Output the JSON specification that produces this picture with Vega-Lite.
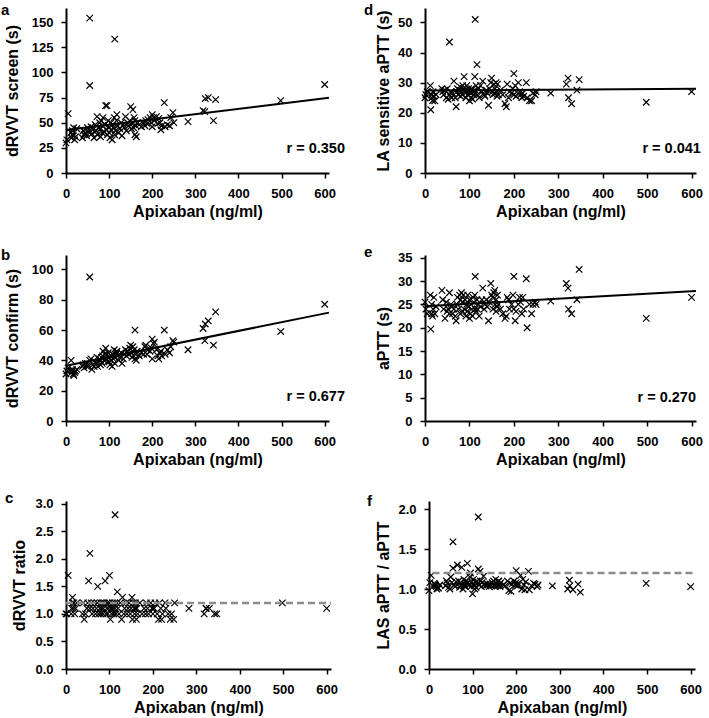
{
"$schema": "https://vega.github.io/schema/vega-lite/v6.json",
"padding": {"left": 1, "top": 2, "right": 2, "bottom": 2},
"background": "white",
"config": {
"view": {"stroke": null},
"font": "Liberation Sans",
"axis": {"grid": false, "labelFont": "Liberation Sans", "labelFontSize": 13, "labelFontWeight": "bold", "labelColor": "#000", "titleFont": "Liberation Sans", "titleFontSize": 16, "titleFontWeight": "bold", "titleColor": "#000", "domainColor": "#000", "domainWidth": 2, "tickColor": "#000", "tickWidth": 1.5, "tickSize": 5, "labelFlush": false, "labelOverlap": false},
"axisX": {"titlePadding": 3, "labelPadding": 9},
"axisY": {"titlePadding": 8, "labelPadding": 8},
"title": {"font": "Liberation Sans", "fontSize": 15, "fontWeight": "bold", "color": "#000", "anchor": "start", "frame": "group", "baseline": "alphabetic", "offset": 0}
},
"datasets": {
"samples": [
{"apixaban":0,"dRVVT_screen":30,"dRVVT_confirm":31,"dRVVT_ratio":1.0,"LAS_aPTT":25,"aPTT":25.5,"LAS_ratio":0.98},
{"apixaban":2,"dRVVT_screen":33,"dRVVT_confirm":33,"dRVVT_ratio":1.0,"LAS_aPTT":26,"aPTT":24,"LAS_ratio":1.08},
{"apixaban":5,"dRVVT_screen":59,"dRVVT_confirm":35,"dRVVT_ratio":1.7,"LAS_aPTT":27,"aPTT":23,"LAS_ratio":1.17},
{"apixaban":12,"dRVVT_screen":40,"dRVVT_confirm":40,"dRVVT_ratio":1.0,"LAS_aPTT":29,"aPTT":27,"LAS_ratio":1.07},
{"apixaban":13,"dRVVT_screen":35,"dRVVT_confirm":32,"dRVVT_ratio":1.1,"LAS_aPTT":21,"aPTT":19.7,"LAS_ratio":1.06},
{"apixaban":15,"dRVVT_screen":38,"dRVVT_confirm":34,"dRVVT_ratio":1.2,"LAS_aPTT":26,"aPTT":25,"LAS_ratio":1.04},
{"apixaban":15,"dRVVT_screen":42,"dRVVT_confirm":33,"dRVVT_ratio":1.3,"LAS_aPTT":25,"aPTT":23,"LAS_ratio":1.05},
{"apixaban":17,"dRVVT_screen":37,"dRVVT_confirm":31,"dRVVT_ratio":1.1,"LAS_aPTT":24,"aPTT":22.5,"LAS_ratio":1.03},
{"apixaban":18,"dRVVT_screen":45,"dRVVT_confirm":30,"dRVVT_ratio":1.2,"LAS_aPTT":27,"aPTT":24,"LAS_ratio":1.0},
{"apixaban":20,"dRVVT_screen":33,"dRVVT_confirm":32,"dRVVT_ratio":1.0,"LAS_aPTT":25.5,"aPTT":26.5,"LAS_ratio":1.02},
{"apixaban":22,"dRVVT_screen":36,"dRVVT_confirm":33,"dRVVT_ratio":1.1,"LAS_aPTT":24,"aPTT":23,"LAS_ratio":1.01},
{"apixaban":25,"dRVVT_screen":44,"dRVVT_confirm":34,"dRVVT_ratio":1.2,"LAS_aPTT":26,"aPTT":24.5,"LAS_ratio":1.05},
{"apixaban":38,"dRVVT_screen":35,"dRVVT_confirm":36,"dRVVT_ratio":1.0,"LAS_aPTT":28,"aPTT":28,"LAS_ratio":1.04},
{"apixaban":40,"dRVVT_screen":42,"dRVVT_confirm":37,"dRVVT_ratio":1.2,"LAS_aPTT":27,"aPTT":26,"LAS_ratio":1.1},
{"apixaban":42,"dRVVT_screen":38,"dRVVT_confirm":35,"dRVVT_ratio":0.9,"LAS_aPTT":26,"aPTT":24,"LAS_ratio":1.07},
{"apixaban":45,"dRVVT_screen":40,"dRVVT_confirm":38,"dRVVT_ratio":1.0,"LAS_aPTT":27.5,"aPTT":22,"LAS_ratio":1.02},
{"apixaban":48,"dRVVT_screen":37,"dRVVT_confirm":36,"dRVVT_ratio":1.1,"LAS_aPTT":25,"aPTT":25.5,"LAS_ratio":1.0},
{"apixaban":50,"dRVVT_screen":45,"dRVVT_confirm":38,"dRVVT_ratio":1.2,"LAS_aPTT":28,"aPTT":23.5,"LAS_ratio":1.15},
{"apixaban":52,"dRVVT_screen":41,"dRVVT_confirm":36,"dRVVT_ratio":1.6,"LAS_aPTT":24.5,"aPTT":24,"LAS_ratio":1.08},
{"apixaban":55,"dRVVT_screen":154,"dRVVT_confirm":95,"dRVVT_ratio":2.1,"LAS_aPTT":43.5,"aPTT":27.5,"LAS_ratio":1.59},
{"apixaban":55,"dRVVT_screen":87,"dRVVT_confirm":40,"dRVVT_ratio":1.1,"LAS_aPTT":26,"aPTT":23,"LAS_ratio":1.26},
{"apixaban":58,"dRVVT_screen":46,"dRVVT_confirm":41,"dRVVT_ratio":1.2,"LAS_aPTT":27,"aPTT":25,"LAS_ratio":1.05},
{"apixaban":60,"dRVVT_screen":39,"dRVVT_confirm":34,"dRVVT_ratio":1.0,"LAS_aPTT":25,"aPTT":24.5,"LAS_ratio":1.03},
{"apixaban":62,"dRVVT_screen":43,"dRVVT_confirm":37,"dRVVT_ratio":1.1,"LAS_aPTT":26.5,"aPTT":23,"LAS_ratio":1.09},
{"apixaban":65,"dRVVT_screen":35,"dRVVT_confirm":36,"dRVVT_ratio":1.2,"LAS_aPTT":30.5,"aPTT":24,"LAS_ratio":1.3},
{"apixaban":68,"dRVVT_screen":48,"dRVVT_confirm":39,"dRVVT_ratio":1.0,"LAS_aPTT":25,"aPTT":22.5,"LAS_ratio":1.1},
{"apixaban":70,"dRVVT_screen":42,"dRVVT_confirm":38,"dRVVT_ratio":1.1,"LAS_aPTT":22,"aPTT":21.5,"LAS_ratio":1.02},
{"apixaban":72,"dRVVT_screen":56,"dRVVT_confirm":42,"dRVVT_ratio":1.2,"LAS_aPTT":27,"aPTT":25,"LAS_ratio":1.08},
{"apixaban":73,"dRVVT_screen":38,"dRVVT_confirm":36,"dRVVT_ratio":1.5,"LAS_aPTT":28,"aPTT":26.5,"LAS_ratio":1.05},
{"apixaban":75,"dRVVT_screen":45,"dRVVT_confirm":39,"dRVVT_ratio":1.0,"LAS_aPTT":26,"aPTT":24,"LAS_ratio":1.27},
{"apixaban":78,"dRVVT_screen":50,"dRVVT_confirm":41,"dRVVT_ratio":1.1,"LAS_aPTT":27.5,"aPTT":27,"LAS_ratio":1.0},
{"apixaban":80,"dRVVT_screen":36,"dRVVT_confirm":37,"dRVVT_ratio":1.2,"LAS_aPTT":25.5,"aPTT":23,"LAS_ratio":1.04},
{"apixaban":80,"dRVVT_screen":44,"dRVVT_confirm":40,"dRVVT_ratio":1.0,"LAS_aPTT":28.5,"aPTT":26,"LAS_ratio":1.12},
{"apixaban":82,"dRVVT_screen":52,"dRVVT_confirm":42,"dRVVT_ratio":1.1,"LAS_aPTT":27,"aPTT":27.5,"LAS_ratio":1.06},
{"apixaban":84,"dRVVT_screen":40,"dRVVT_confirm":38,"dRVVT_ratio":1.2,"LAS_aPTT":26,"aPTT":25.5,"LAS_ratio":1.03},
{"apixaban":85,"dRVVT_screen":47,"dRVVT_confirm":43,"dRVVT_ratio":1.0,"LAS_aPTT":29,"aPTT":23.5,"LAS_ratio":1.1},
{"apixaban":86,"dRVVT_screen":55,"dRVVT_confirm":46,"dRVVT_ratio":1.1,"LAS_aPTT":28,"aPTT":27,"LAS_ratio":1.07},
{"apixaban":88,"dRVVT_screen":41,"dRVVT_confirm":40,"dRVVT_ratio":1.2,"LAS_aPTT":32,"aPTT":24,"LAS_ratio":1.32},
{"apixaban":90,"dRVVT_screen":48,"dRVVT_confirm":44,"dRVVT_ratio":1.6,"LAS_aPTT":27.5,"aPTT":26,"LAS_ratio":1.08},
{"apixaban":92,"dRVVT_screen":67,"dRVVT_confirm":48,"dRVVT_ratio":1.0,"LAS_aPTT":25,"aPTT":22.5,"LAS_ratio":1.05},
{"apixaban":94,"dRVVT_screen":43,"dRVVT_confirm":41,"dRVVT_ratio":1.1,"LAS_aPTT":29,"aPTT":25,"LAS_ratio":1.15},
{"apixaban":95,"dRVVT_screen":67,"dRVVT_confirm":44,"dRVVT_ratio":1.2,"LAS_aPTT":27,"aPTT":23.5,"LAS_ratio":1.2},
{"apixaban":96,"dRVVT_screen":38,"dRVVT_confirm":39,"dRVVT_ratio":1.0,"LAS_aPTT":26,"aPTT":27,"LAS_ratio":1.03},
{"apixaban":98,"dRVVT_screen":52,"dRVVT_confirm":45,"dRVVT_ratio":1.1,"LAS_aPTT":28,"aPTT":24.5,"LAS_ratio":1.09},
{"apixaban":100,"dRVVT_screen":45,"dRVVT_confirm":42,"dRVVT_ratio":1.7,"LAS_aPTT":27,"aPTT":26,"LAS_ratio":0.94},
{"apixaban":100,"dRVVT_screen":40,"dRVVT_confirm":39,"dRVVT_ratio":1.2,"LAS_aPTT":24,"aPTT":22,"LAS_ratio":1.06},
{"apixaban":102,"dRVVT_screen":35,"dRVVT_confirm":37,"dRVVT_ratio":0.9,"LAS_aPTT":26.5,"aPTT":23,"LAS_ratio":1.12},
{"apixaban":104,"dRVVT_screen":50,"dRVVT_confirm":43,"dRVVT_ratio":1.1,"LAS_aPTT":25,"aPTT":25,"LAS_ratio":1.04},
{"apixaban":105,"dRVVT_screen":43,"dRVVT_confirm":40,"dRVVT_ratio":1.0,"LAS_aPTT":28,"aPTT":24,"LAS_ratio":1.0},
{"apixaban":107,"dRVVT_screen":33,"dRVVT_confirm":36,"dRVVT_ratio":1.2,"LAS_aPTT":24.5,"aPTT":22.5,"LAS_ratio":1.08},
{"apixaban":108,"dRVVT_screen":48,"dRVVT_confirm":44,"dRVVT_ratio":1.1,"LAS_aPTT":27,"aPTT":26.5,"LAS_ratio":1.02},
{"apixaban":110,"dRVVT_screen":45,"dRVVT_confirm":41,"dRVVT_ratio":1.0,"LAS_aPTT":26,"aPTT":25.5,"LAS_ratio":1.1},
{"apixaban":112,"dRVVT_screen":55,"dRVVT_confirm":47,"dRVVT_ratio":1.2,"LAS_aPTT":32,"aPTT":27,"LAS_ratio":1.07},
{"apixaban":113,"dRVVT_screen":133,"dRVVT_confirm":42,"dRVVT_ratio":2.8,"LAS_aPTT":51,"aPTT":31,"LAS_ratio":1.9},
{"apixaban":113,"dRVVT_screen":38,"dRVVT_confirm":38,"dRVVT_ratio":1.1,"LAS_aPTT":27.5,"aPTT":24,"LAS_ratio":1.25},
{"apixaban":115,"dRVVT_screen":42,"dRVVT_confirm":44,"dRVVT_ratio":1.0,"LAS_aPTT":29,"aPTT":23.5,"LAS_ratio":1.05},
{"apixaban":117,"dRVVT_screen":52,"dRVVT_confirm":45,"dRVVT_ratio":1.2,"LAS_aPTT":36,"aPTT":26,"LAS_ratio":1.22},
{"apixaban":118,"dRVVT_screen":58,"dRVVT_confirm":46,"dRVVT_ratio":1.4,"LAS_aPTT":26,"aPTT":24,"LAS_ratio":1.1},
{"apixaban":120,"dRVVT_screen":47,"dRVVT_confirm":43,"dRVVT_ratio":1.1,"LAS_aPTT":28,"aPTT":25,"LAS_ratio":1.03},
{"apixaban":122,"dRVVT_screen":40,"dRVVT_confirm":40,"dRVVT_ratio":1.0,"LAS_aPTT":25,"aPTT":22.5,"LAS_ratio":1.08},
{"apixaban":125,"dRVVT_screen":44,"dRVVT_confirm":42,"dRVVT_ratio":1.2,"LAS_aPTT":29,"aPTT":24.5,"LAS_ratio":1.16},
{"apixaban":128,"dRVVT_screen":50,"dRVVT_confirm":45,"dRVVT_ratio":0.9,"LAS_aPTT":27,"aPTT":26,"LAS_ratio":1.06},
{"apixaban":130,"dRVVT_screen":37,"dRVVT_confirm":38,"dRVVT_ratio":1.3,"LAS_aPTT":30.5,"aPTT":28.5,"LAS_ratio":1.04},
{"apixaban":133,"dRVVT_screen":48,"dRVVT_confirm":41,"dRVVT_ratio":1.0,"LAS_aPTT":26,"aPTT":24,"LAS_ratio":1.07},
{"apixaban":135,"dRVVT_screen":45,"dRVVT_confirm":44,"dRVVT_ratio":1.1,"LAS_aPTT":25.5,"aPTT":25,"LAS_ratio":1.05},
{"apixaban":138,"dRVVT_screen":56,"dRVVT_confirm":47,"dRVVT_ratio":1.2,"LAS_aPTT":27.5,"aPTT":26,"LAS_ratio":1.03},
{"apixaban":140,"dRVVT_screen":42,"dRVVT_confirm":43,"dRVVT_ratio":1.0,"LAS_aPTT":26.5,"aPTT":24.5,"LAS_ratio":1.06},
{"apixaban":143,"dRVVT_screen":50,"dRVVT_confirm":46,"dRVVT_ratio":1.1,"LAS_aPTT":22.5,"aPTT":21.5,"LAS_ratio":1.04},
{"apixaban":145,"dRVVT_screen":47,"dRVVT_confirm":44,"dRVVT_ratio":1.2,"LAS_aPTT":28,"aPTT":25.5,"LAS_ratio":1.08},
{"apixaban":148,"dRVVT_screen":52,"dRVVT_confirm":48,"dRVVT_ratio":1.0,"LAS_aPTT":30,"aPTT":29.5,"LAS_ratio":1.1},
{"apixaban":150,"dRVVT_screen":66,"dRVVT_confirm":50,"dRVVT_ratio":1.1,"LAS_aPTT":31.5,"aPTT":27,"LAS_ratio":1.05},
{"apixaban":152,"dRVVT_screen":44,"dRVVT_confirm":45,"dRVVT_ratio":1.3,"LAS_aPTT":27,"aPTT":26.5,"LAS_ratio":1.03},
{"apixaban":153,"dRVVT_screen":49,"dRVVT_confirm":42,"dRVVT_ratio":0.9,"LAS_aPTT":26,"aPTT":24,"LAS_ratio":1.12},
{"apixaban":155,"dRVVT_screen":63,"dRVVT_confirm":49,"dRVVT_ratio":1.2,"LAS_aPTT":29.5,"aPTT":27.5,"LAS_ratio":1.07},
{"apixaban":157,"dRVVT_screen":45,"dRVVT_confirm":43,"dRVVT_ratio":1.1,"LAS_aPTT":28,"aPTT":28,"LAS_ratio":1.04},
{"apixaban":158,"dRVVT_screen":55,"dRVVT_confirm":47,"dRVVT_ratio":1.0,"LAS_aPTT":26.5,"aPTT":25,"LAS_ratio":1.09},
{"apixaban":160,"dRVVT_screen":38,"dRVVT_confirm":41,"dRVVT_ratio":1.1,"LAS_aPTT":30,"aPTT":23.5,"LAS_ratio":1.05},
{"apixaban":160,"dRVVT_screen":52,"dRVVT_confirm":60,"dRVVT_ratio":1.2,"LAS_aPTT":27,"aPTT":26,"LAS_ratio":1.1},
{"apixaban":162,"dRVVT_screen":47,"dRVVT_confirm":44,"dRVVT_ratio":0.9,"LAS_aPTT":25.5,"aPTT":24.5,"LAS_ratio":1.06},
{"apixaban":163,"dRVVT_screen":36,"dRVVT_confirm":40,"dRVVT_ratio":1.1,"LAS_aPTT":29.5,"aPTT":27,"LAS_ratio":1.03},
{"apixaban":165,"dRVVT_screen":50,"dRVVT_confirm":46,"dRVVT_ratio":1.0,"LAS_aPTT":26,"aPTT":25,"LAS_ratio":1.08},
{"apixaban":170,"dRVVT_screen":48,"dRVVT_confirm":43,"dRVVT_ratio":1.2,"LAS_aPTT":27.5,"aPTT":24,"LAS_ratio":1.05},
{"apixaban":175,"dRVVT_screen":46,"dRVVT_confirm":45,"dRVVT_ratio":1.0,"LAS_aPTT":26,"aPTT":23,"LAS_ratio":1.04},
{"apixaban":180,"dRVVT_screen":50,"dRVVT_confirm":44,"dRVVT_ratio":1.1,"LAS_aPTT":23,"aPTT":22,"LAS_ratio":1.1},
{"apixaban":183,"dRVVT_screen":47,"dRVVT_confirm":49,"dRVVT_ratio":1.0,"LAS_aPTT":22,"aPTT":22.5,"LAS_ratio":0.98},
{"apixaban":185,"dRVVT_screen":52,"dRVVT_confirm":50,"dRVVT_ratio":1.2,"LAS_aPTT":29.5,"aPTT":26.5,"LAS_ratio":1.07},
{"apixaban":188,"dRVVT_screen":49,"dRVVT_confirm":44,"dRVVT_ratio":1.1,"LAS_aPTT":25,"aPTT":26,"LAS_ratio":0.97},
{"apixaban":190,"dRVVT_screen":53,"dRVVT_confirm":47,"dRVVT_ratio":1.0,"LAS_aPTT":27,"aPTT":24,"LAS_ratio":1.06},
{"apixaban":195,"dRVVT_screen":55,"dRVVT_confirm":46,"dRVVT_ratio":1.2,"LAS_aPTT":26.5,"aPTT":25,"LAS_ratio":1.1},
{"apixaban":198,"dRVVT_screen":50,"dRVVT_confirm":48,"dRVVT_ratio":1.1,"LAS_aPTT":28,"aPTT":27,"LAS_ratio":1.05},
{"apixaban":200,"dRVVT_screen":58,"dRVVT_confirm":54,"dRVVT_ratio":1.1,"LAS_aPTT":33,"aPTT":31,"LAS_ratio":1.08},
{"apixaban":200,"dRVVT_screen":46,"dRVVT_confirm":41,"dRVVT_ratio":1.0,"LAS_aPTT":26,"aPTT":24,"LAS_ratio":1.23},
{"apixaban":203,"dRVVT_screen":55,"dRVVT_confirm":51,"dRVVT_ratio":1.1,"LAS_aPTT":29,"aPTT":21.5,"LAS_ratio":1.04},
{"apixaban":205,"dRVVT_screen":52,"dRVVT_confirm":52,"dRVVT_ratio":1.2,"LAS_aPTT":25.5,"aPTT":23.5,"LAS_ratio":1.07},
{"apixaban":210,"dRVVT_screen":56,"dRVVT_confirm":47,"dRVVT_ratio":1.0,"LAS_aPTT":30,"aPTT":25,"LAS_ratio":1.17},
{"apixaban":213,"dRVVT_screen":49,"dRVVT_confirm":43,"dRVVT_ratio":0.9,"LAS_aPTT":27,"aPTT":26.5,"LAS_ratio":1.0},
{"apixaban":215,"dRVVT_screen":54,"dRVVT_confirm":41,"dRVVT_ratio":1.2,"LAS_aPTT":26,"aPTT":25.5,"LAS_ratio":1.12},
{"apixaban":218,"dRVVT_screen":50,"dRVVT_confirm":45,"dRVVT_ratio":1.1,"LAS_aPTT":25,"aPTT":23,"LAS_ratio":1.05},
{"apixaban":220,"dRVVT_screen":43,"dRVVT_confirm":46,"dRVVT_ratio":0.9,"LAS_aPTT":26.5,"aPTT":26.5,"LAS_ratio":0.99},
{"apixaban":222,"dRVVT_screen":47,"dRVVT_confirm":43,"dRVVT_ratio":1.0,"LAS_aPTT":25.5,"aPTT":24,"LAS_ratio":1.09},
{"apixaban":228,"dRVVT_screen":70,"dRVVT_confirm":60,"dRVVT_ratio":1.2,"LAS_aPTT":30,"aPTT":30.5,"LAS_ratio":1.22},
{"apixaban":230,"dRVVT_screen":46,"dRVVT_confirm":44,"dRVVT_ratio":1.1,"LAS_aPTT":25,"aPTT":20,"LAS_ratio":0.99},
{"apixaban":235,"dRVVT_screen":48,"dRVVT_confirm":47,"dRVVT_ratio":1.0,"LAS_aPTT":24,"aPTT":25,"LAS_ratio":1.04},
{"apixaban":240,"dRVVT_screen":47,"dRVVT_confirm":45,"dRVVT_ratio":0.9,"LAS_aPTT":24,"aPTT":23,"LAS_ratio":1.07},
{"apixaban":243,"dRVVT_screen":55,"dRVVT_confirm":49,"dRVVT_ratio":1.0,"LAS_aPTT":26.5,"aPTT":25,"LAS_ratio":1.06},
{"apixaban":248,"dRVVT_screen":60,"dRVVT_confirm":53,"dRVVT_ratio":0.9,"LAS_aPTT":26,"aPTT":25.5,"LAS_ratio":1.03},
{"apixaban":250,"dRVVT_screen":50,"dRVVT_confirm":52,"dRVVT_ratio":1.2,"LAS_aPTT":27,"aPTT":25,"LAS_ratio":1.05},
{"apixaban":283,"dRVVT_screen":51,"dRVVT_confirm":47,"dRVVT_ratio":1.1,"LAS_aPTT":26.5,"aPTT":25.7,"LAS_ratio":1.04},
{"apixaban":318,"dRVVT_screen":62,"dRVVT_confirm":61,"dRVVT_ratio":1.0,"LAS_aPTT":29.5,"aPTT":29.5,"LAS_ratio":1.0},
{"apixaban":322,"dRVVT_screen":61,"dRVVT_confirm":53,"dRVVT_ratio":1.1,"LAS_aPTT":31.5,"aPTT":28.5,"LAS_ratio":1.11},
{"apixaban":323,"dRVVT_screen":74,"dRVVT_confirm":64,"dRVVT_ratio":1.1,"LAS_aPTT":25,"aPTT":24,"LAS_ratio":1.04},
{"apixaban":330,"dRVVT_screen":75,"dRVVT_confirm":66,"dRVVT_ratio":1.1,"LAS_aPTT":23,"aPTT":23,"LAS_ratio":0.99},
{"apixaban":342,"dRVVT_screen":52,"dRVVT_confirm":50,"dRVVT_ratio":1.0,"LAS_aPTT":27.5,"aPTT":26,"LAS_ratio":1.06},
{"apixaban":347,"dRVVT_screen":73,"dRVVT_confirm":72,"dRVVT_ratio":1.0,"LAS_aPTT":31,"aPTT":32.5,"LAS_ratio":0.96},
{"apixaban":498,"dRVVT_screen":72,"dRVVT_confirm":59,"dRVVT_ratio":1.2,"LAS_aPTT":23.5,"aPTT":22,"LAS_ratio":1.07},
{"apixaban":600,"dRVVT_screen":88,"dRVVT_confirm":77,"dRVVT_ratio":1.1,"LAS_aPTT":27,"aPTT":26.5,"LAS_ratio":1.03}
],
"fit_screen": [{"apixaban":0,"dRVVT_screen":42.7},{"apixaban":610,"dRVVT_screen":74.8}],
"fit_confirm": [{"apixaban":0,"dRVVT_confirm":36.4},{"apixaban":610,"dRVVT_confirm":71.5}],
"fit_las": [{"apixaban":0,"LAS_aPTT":27.4},{"apixaban":610,"LAS_aPTT":28.0}],
"fit_aptt": [{"apixaban":0,"aPTT":24.6},{"apixaban":610,"aPTT":27.9}],
"cut_ratio": [{"apixaban":0,"dRVVT_ratio":1.2},{"apixaban":610,"dRVVT_ratio":1.2}],
"cut_las": [{"apixaban":8,"LAS_ratio":1.2},{"apixaban":610,"LAS_ratio":1.2}]
},
"spacing": 25,
"vconcat": [
{"hconcat": [
{"width": 263, "height": 165, "title": {"text": "a", "dx": -65, "dy": 13.5},
 "layer": [
 {"data": {"name": "samples"}, "mark": {"type": "point", "shape": "M-1,-1L1,1M-1,1L1,-1", "filled": false, "stroke": "#000", "strokeWidth": 1.2, "size": 42, "opacity": 1},
  "encoding": {"x": {"field": "apixaban", "type": "quantitative", "title": "Apixaban (ng/ml)", "scale": {"domain": [0, 610], "nice": false}, "axis": {"values": [0,100,200,300,400,500,600]}},
   "y": {"field": "dRVVT_screen", "type": "quantitative", "title": "dRVVT screen (s)", "scale": {"domain": [0, 164], "nice": false}, "axis": {"values": [0,25,50,75,100,125,150], "titlePadding": 11}}}},
 {"data": {"name": "fit_screen"}, "mark": {"type": "line", "color": "#000", "strokeWidth": 2},
  "encoding": {"x": {"field": "apixaban", "type": "quantitative", "title": "Apixaban (ng/ml)", "axis": {"values": [0,100,200,300,400,500,600]}}, "y": {"field": "dRVVT_screen", "type": "quantitative", "title": "dRVVT screen (s)", "axis": {"values": [0,25,50,75,100,125,150], "titlePadding": 11}}}},
 {"data": {"values": [{"label": "r = 0.350"}]}, "mark": {"type": "text", "align": "right", "baseline": "middle", "fontSize": 14.5, "fontWeight": "bold", "color": "#000"},
  "encoding": {"text": {"field": "label"}, "x": {"datum": 647, "axis": {"values": [0,100,200,300,400,500,600]}}, "y": {"datum": 24, "axis": {"values": [0,25,50,75,100,125,150], "titlePadding": 11}}}}
 ]},
{"width": 271, "height": 165, "title": {"text": "d", "dx": -61, "dy": 13.5},
 "layer": [
 {"data": {"name": "samples"}, "mark": {"type": "point", "shape": "M-1,-1L1,1M-1,1L1,-1", "filled": false, "stroke": "#000", "strokeWidth": 1.2, "size": 42, "opacity": 1},
  "encoding": {"x": {"field": "apixaban", "type": "quantitative", "title": "Apixaban (ng/ml)", "scale": {"domain": [0, 610], "nice": false}, "axis": {"values": [0,100,200,300,400,500,600]}},
   "y": {"field": "LAS_aPTT", "type": "quantitative", "title": "LA sensitive aPTT (s)", "scale": {"domain": [0, 54.8], "nice": false}, "axis": {"values": [0,10,20,30,40,50], "titlePadding": 6}}}},
 {"data": {"name": "fit_las"}, "mark": {"type": "line", "color": "#000", "strokeWidth": 2},
  "encoding": {"x": {"field": "apixaban", "type": "quantitative", "title": "Apixaban (ng/ml)", "axis": {"values": [0,100,200,300,400,500,600]}}, "y": {"field": "LAS_aPTT", "type": "quantitative", "title": "LA sensitive aPTT (s)", "axis": {"values": [0,10,20,30,40,50], "titlePadding": 6}}}},
 {"data": {"values": [{"label": "r = 0.041"}]}, "mark": {"type": "text", "align": "right", "baseline": "middle", "fontSize": 14.5, "fontWeight": "bold", "color": "#000"},
  "encoding": {"text": {"field": "label"}, "x": {"datum": 621, "axis": {"values": [0,100,200,300,400,500,600]}}, "y": {"datum": 8, "axis": {"values": [0,10,20,30,40,50], "titlePadding": 6}}}}
 ]}
], "spacing": 96, "bounds": "flush"},
{"spacing": 23, "vconcat": [
{"hconcat": [
{"width": 263, "height": 166, "title": {"text": "b", "dx": -65, "dy": 12},
 "layer": [
 {"data": {"name": "samples"}, "mark": {"type": "point", "shape": "M-1,-1L1,1M-1,1L1,-1", "filled": false, "stroke": "#000", "strokeWidth": 1.2, "size": 42, "opacity": 1},
  "encoding": {"x": {"field": "apixaban", "type": "quantitative", "title": "Apixaban (ng/ml)", "scale": {"domain": [0, 610], "nice": false}, "axis": {"values": [0,100,200,300,400,500,600]}},
   "y": {"field": "dRVVT_confirm", "type": "quantitative", "title": "dRVVT confirm (s)", "scale": {"domain": [0, 109.5], "nice": false}, "axis": {"values": [0,20,40,60,80,100], "titlePadding": 11}}}},
 {"data": {"name": "fit_confirm"}, "mark": {"type": "line", "color": "#000", "strokeWidth": 2},
  "encoding": {"x": {"field": "apixaban", "type": "quantitative", "title": "Apixaban (ng/ml)", "axis": {"values": [0,100,200,300,400,500,600]}}, "y": {"field": "dRVVT_confirm", "type": "quantitative", "title": "dRVVT confirm (s)", "axis": {"values": [0,20,40,60,80,100], "titlePadding": 11}}}},
 {"data": {"values": [{"label": "r = 0.677"}]}, "mark": {"type": "text", "align": "right", "baseline": "middle", "fontSize": 14.5, "fontWeight": "bold", "color": "#000"},
  "encoding": {"text": {"field": "label"}, "x": {"datum": 647, "axis": {"values": [0,100,200,300,400,500,600]}}, "y": {"datum": 16, "axis": {"values": [0,20,40,60,80,100], "titlePadding": 11}}}}
 ]},
{"width": 271, "height": 166, "title": {"text": "e", "dx": -61, "dy": 12},
 "layer": [
 {"data": {"name": "samples"}, "mark": {"type": "point", "shape": "M-1,-1L1,1M-1,1L1,-1", "filled": false, "stroke": "#000", "strokeWidth": 1.2, "size": 42, "opacity": 1},
  "encoding": {"x": {"field": "apixaban", "type": "quantitative", "title": "Apixaban (ng/ml)", "scale": {"domain": [0, 610], "nice": false}, "axis": {"values": [0,100,200,300,400,500,600]}},
   "y": {"field": "aPTT", "type": "quantitative", "title": "aPTT (s)", "scale": {"domain": [0, 35.6], "nice": false}, "axis": {"values": [0,5,10,15,20,25,30,35], "titlePadding": 6}}}},
 {"data": {"name": "fit_aptt"}, "mark": {"type": "line", "color": "#000", "strokeWidth": 2},
  "encoding": {"x": {"field": "apixaban", "type": "quantitative", "title": "Apixaban (ng/ml)", "axis": {"values": [0,100,200,300,400,500,600]}}, "y": {"field": "aPTT", "type": "quantitative", "title": "aPTT (s)", "axis": {"values": [0,5,10,15,20,25,30,35], "titlePadding": 6}}}},
 {"data": {"values": [{"label": "r = 0.270"}]}, "mark": {"type": "text", "align": "right", "baseline": "middle", "fontSize": 14.5, "fontWeight": "bold", "color": "#000"},
  "encoding": {"text": {"field": "label"}, "x": {"datum": 610, "axis": {"values": [0,100,200,300,400,500,600]}}, "y": {"datum": 5, "axis": {"values": [0,5,10,15,20,25,30,35], "titlePadding": 6}}}}
 ]}
], "spacing": 96, "bounds": "flush"},
{"hconcat": [
{"width": 265, "height": 168, "title": {"text": "c", "dx": -61, "dy": 12},
 "layer": [
 {"data": {"name": "samples"}, "mark": {"type": "point", "shape": "M-1,-1L1,1M-1,1L1,-1", "filled": false, "stroke": "#000", "strokeWidth": 1.2, "size": 42, "opacity": 1},
  "encoding": {"x": {"field": "apixaban", "type": "quantitative", "title": "Apixaban (ng/ml)", "scale": {"domain": [0, 610], "nice": false}, "axis": {"values": [0,100,200,300,400,500,600]}},
   "y": {"field": "dRVVT_ratio", "type": "quantitative", "title": "dRVVT ratio", "scale": {"domain": [0, 3.05], "nice": false}, "axis": {"values": [0,0.5,1,1.5,2,2.5,3], "format": ".1f", "titlePadding": 7}}}},
 {"data": {"name": "cut_ratio"}, "mark": {"type": "line", "color": "#8c8c8c", "strokeWidth": 2.5, "strokeDash": [7, 4]},
  "encoding": {"x": {"field": "apixaban", "type": "quantitative", "title": "Apixaban (ng/ml)", "axis": {"values": [0,100,200,300,400,500,600]}}, "y": {"field": "dRVVT_ratio", "type": "quantitative", "title": "dRVVT ratio", "axis": {"values": [0,0.5,1,1.5,2,2.5,3], "format": ".1f", "titlePadding": 7}}}}
 ]},
{"width": 266, "height": 168, "title": {"text": "f", "dx": -62, "dy": 12},
 "layer": [
 {"data": {"name": "samples"}, "mark": {"type": "point", "shape": "M-1,-1L1,1M-1,1L1,-1", "filled": false, "stroke": "#000", "strokeWidth": 1.2, "size": 42, "opacity": 1},
  "encoding": {"x": {"field": "apixaban", "type": "quantitative", "title": "Apixaban (ng/ml)", "scale": {"domain": [0, 610], "nice": false}, "axis": {"values": [0,100,200,300,400,500,600]}},
   "y": {"field": "LAS_ratio", "type": "quantitative", "title": "LAS aPTT / aPTT", "scale": {"domain": [0, 2.1], "nice": false}, "axis": {"values": [0,0.5,1,1.5,2], "format": ".1f", "titlePadding": 6}}}},
 {"data": {"name": "cut_las"}, "mark": {"type": "line", "color": "#8c8c8c", "strokeWidth": 2.5, "strokeDash": [7, 4]},
  "encoding": {"x": {"field": "apixaban", "type": "quantitative", "title": "Apixaban (ng/ml)", "axis": {"values": [0,100,200,300,400,500,600]}}, "y": {"field": "LAS_ratio", "type": "quantitative", "title": "LAS aPTT / aPTT", "axis": {"values": [0,0.5,1,1.5,2], "format": ".1f", "titlePadding": 6}}}}
 ]}
], "spacing": 98, "bounds": "flush"}
]}
]
}
